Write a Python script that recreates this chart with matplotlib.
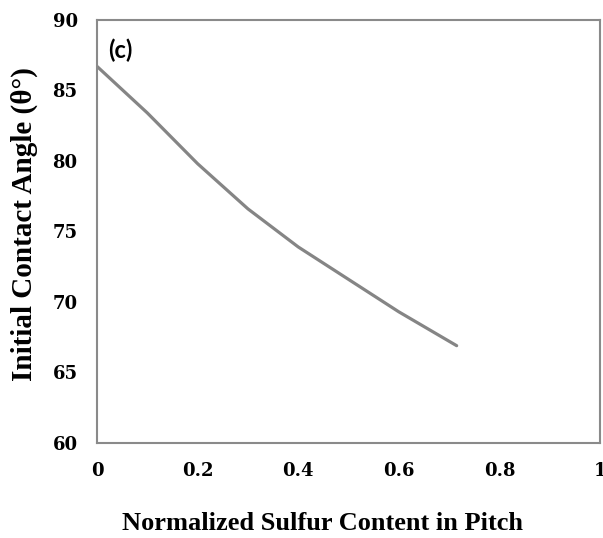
import matplotlib.pyplot as plt

# values
sulfur = [0, 0.1, 0.2, 0.3, 0.4, 0.5, 0.6, 0.715]
contact_angle = [86.7, 83.4, 79.8, 76.6, 73.9, 71.6, 69.3, 66.9]

x_ticks = [0, 0.2, 0.4, 0.6, 0.8, 1]
x_tick_labels = ['0', '0.2', '0.4', '0.6', '0.8', '1']
y_ticks = [60, 65, 70, 75, 80, 85, 90]

fig = plt.figure(figsize=(6.03, 5.38), dpi=100)
ax = fig.add_axes([0.161, 0.1766, 0.834, 0.7864])

ax.plot(sulfur, contact_angle, color='#858585', linewidth=2.3, solid_capstyle='round')

ax.set_xlim(0, 1)
ax.set_ylim(60, 90)
ax.set_xticks(x_ticks)
ax.set_xticklabels(x_tick_labels)
ax.set_yticks(y_ticks)

# tick labels: bold serif, wide digits
for lab in ax.get_xticklabels() + ax.get_yticklabels():
    lab.set_fontfamily('DejaVu Serif')
    lab.set_fontweight('bold')
    lab.set_fontsize(13)
ax.tick_params(axis='both', length=0)
ax.tick_params(axis='y', pad=14)
ax.tick_params(axis='x', pad=14)

for s in ax.spines.values():
    s.set_color('#8a8a8a')
    s.set_linewidth(1.5)

# axis titles placed in figure coords
fig.text(323 / 603, 1 - 523 / 538, 'Normalized Sulfur Content in Pitch',
         family='Liberation Serif', weight='bold', size=19, ha='center', va='center')
fig.text(24 / 603, 1 - 224 / 538, 'Initial Contact Angle (θ°)',
         family='Liberation Serif', weight='bold', size=21, ha='center', va='center', rotation=90)

ax.text(0.022, 0.957, '(c)', transform=ax.transAxes, family='Lato', weight='bold', size=17, va='top', ha='left')

fig.savefig('out.png', dpi=100)
